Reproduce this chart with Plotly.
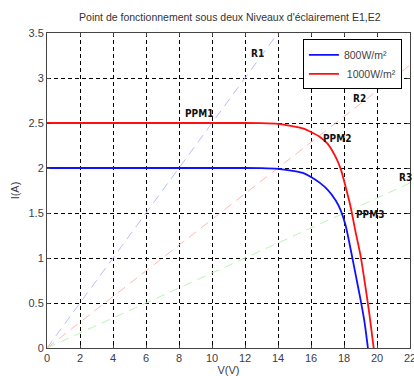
import plotly.graph_objects as go

# I-V curves
v_800 = [0, 2, 4, 6, 8, 10, 12, 13, 14, 15, 15.5, 16, 16.5, 17, 17.5, 17.8, 18.1, 18.4, 18.7, 19.0, 19.25, 19.45]
i_800 = [2, 2, 2, 2, 2, 2, 2, 1.998, 1.99, 1.965, 1.945, 1.9, 1.84, 1.76, 1.64, 1.53, 1.36, 1.1, 0.82, 0.54, 0.28, 0]

v_1000 = [0, 2, 4, 6, 8, 10, 12, 13, 14, 15, 15.5, 16, 16.5, 17, 17.5, 17.8, 18.1, 18.4, 18.7, 19.0, 19.3, 19.55, 19.8]
i_1000 = [2.5, 2.5, 2.5, 2.5, 2.5, 2.5, 2.5, 2.498, 2.49, 2.46, 2.44, 2.40, 2.35, 2.27, 2.12, 1.99, 1.79, 1.57, 1.29, 1.03, 0.68, 0.36, 0]

# Load lines (endpoints)
r1_v = [0, 14]
r1_i = [0, 3.5]
r2_v = [0, 22]
r2_i = [0, 3.143]
r3_v = [0, 22]
r3_i = [0, 1.833]

# Annotations
label_text = ["R1", "R2", "R3", "PPM1", "PPM2", "PPM3"]
label_v = [12.75, 18.95, 21.7, 9.2, 17.6, 19.6]
label_i = [3.27, 2.77, 1.89, 2.61, 2.33, 1.48]

x_ticks = list(range(0, 23, 2))
y_ticks = [0, 0.5, 1, 1.5, 2, 2.5, 3, 3.5]

fig = go.Figure()
fig.add_trace(go.Scatter(x=r1_v, y=r1_i, mode="lines", showlegend=False,
                         line=dict(color="#b8bcff", width=1, dash="9px,6px")))
fig.add_trace(go.Scatter(x=r2_v, y=r2_i, mode="lines", showlegend=False,
                         line=dict(color="#ffb8b8", width=1, dash="9px,6px")))
fig.add_trace(go.Scatter(x=r3_v, y=r3_i, mode="lines", showlegend=False,
                         line=dict(color="#b8f5b8", width=1, dash="9px,6px")))
fig.add_trace(go.Scatter(x=v_800, y=i_800, mode="lines", name="800W/m²",
                         line=dict(color="#1010ff", width=1.8, shape="spline", smoothing=0.6)))
fig.add_trace(go.Scatter(x=v_1000, y=i_1000, mode="lines", name=" 1000W/m²",
                         line=dict(color="#ff1010", width=1.8, shape="spline", smoothing=0.6)))

for t, x, y in zip(label_text, label_v, label_i):
    fig.add_annotation(x=x, y=y, text="<b>" + t + "</b>", showarrow=False,
                       font=dict(family="Liberation Sans Narrow, DejaVu Sans Condensed, Arial", size=10, color="#111"))

tf = dict(family="Liberation Sans, Arial", size=11, color="#3c3c48")
axis_common = dict(showline=True, linecolor="#444", linewidth=1, mirror="ticks",
                   showgrid=True, gridcolor="black", gridwidth=1, griddash="4px,3px",
                   zeroline=False, ticks="inside", ticklen=3, tickcolor="#444",
                   tickfont=tf, automargin=False, ticklabeloverflow="allow")

fig.update_xaxes(range=[0, 22], tickvals=x_ticks, ticktext=[str(v) for v in x_ticks],
                 title=dict(text="V(V)", standoff=8, font=tf),
                 **axis_common)
fig.update_yaxes(range=[0, 3.5], tickvals=y_ticks, ticktext=[("%g" % v) for v in y_ticks],
                 title=dict(text="I(A)", standoff=6, font=tf),
                 **axis_common)

fig.update_layout(
    width=414, height=376,
    margin=dict(l=47, r=4, t=33, b=28),
    paper_bgcolor="white", plot_bgcolor="white",
    title=dict(text="Point de fonctionnement sous deux Niveaux d'éclairement E1,E2",
               x=0.555, xanchor="center", y=0.955, yanchor="middle",
               font=dict(family="Liberation Sans, Arial", size=10.5, color="#333")),
    legend=dict(x=0.705, y=0.98, xanchor="left", yanchor="top",
                bordercolor="black", borderwidth=1, bgcolor="white",
                font=dict(family="Liberation Sans, Arial", size=10.5, color="#444"),
                itemwidth=30, tracegroupgap=0),
)

fig.write_html("out.html")
